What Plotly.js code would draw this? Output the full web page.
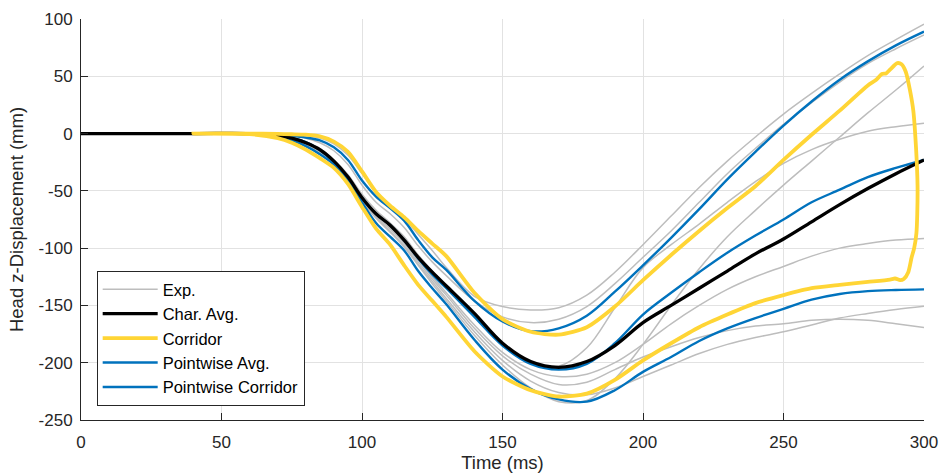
<!DOCTYPE html>
<html>
<head>
<meta charset="utf-8">
<script src="https://cdn.plot.ly/plotly-3.0.1.min.js"></script>
<style>html,body{margin:0;padding:0;background:#fff;}#chart{width:941px;height:476px;}</style>
</head>
<body>
<div id="chart"></div>
<script>
// Shared time grid (ms)
const tGrid = [0,40,60,70,75,80,85,90,95,100,105,110,115,120,125,130,140,150,160,170,180,190,200,210,220,230,240,250,260,270,280,290,300];
// Pointwise series start at 40 ms
const tPw = [40,60,70,75,80,85,90,95,100,105,110,115,120,125,130,140,150,160,170,180,190,200,210,220,230,240,250,260,270,280,290,300];

// Experimental curves (mm) on tGrid
const expA = [0,0,0,-0.5,-1,-2,-4,-9,-19,-35,-52,-63,-74,-88,-102,-117,-142,-151,-154,-152,-141,-121,-97,-72,-47,-24,-3,17,35,52,68,82,95.5];
const expB = [0,0,0,-1,-2,-4,-8,-15,-27,-45,-60,-70,-82,-98,-112,-124,-146,-160,-165,-162,-151,-131,-108,-85,-60,-35,-13,8,27,45,61,74,86];
const expC = [0,0,0,-1.5,-3.5,-7,-13,-23,-36,-53,-67,-78,-90,-106,-120,-132,-157,-182,-199,-203,-187,-152,-117,-97,-79,-60,-42,-26,-14,-5,2,6,9];
const expD = [0,0,0,-1.5,-4,-8,-15,-25,-38,-55,-70,-81,-94,-110,-125,-139,-167,-191,-206,-212,-210,-200,-184,-166,-150,-136,-125,-116,-107,-100,-96,-93,-91.5];
const expE = [0,0,0,-2,-5,-9,-16,-26,-40,-58,-73,-85,-98,-114,-129,-144,-173,-198,-216,-226,-228,-222,-212,-202,-192,-184,-178,-173,-167,-161,-157,-153.5,-150.7];
const expF = [0,0,0,-1.5,-4.5,-9,-16,-26,-40,-57,-72,-83,-96,-112,-127,-141,-170,-194,-210,-219,-217,-206,-195,-186,-178,-172,-168,-166,-163,-162,-163,-166,-169.3];
const expG = [0,0,0,-2,-5,-10,-17,-27,-41,-59,-74,-86,-99,-115,-131,-146,-176,-202,-222,-234,-233,-214,-184,-150,-118,-90,-67,-45,-24,-3,18,38,59];

// Characteristic average on tGrid
const charAvg = [0,0,0,-2,-4,-8,-14,-24,-38,-56,-70,-80,-93,-108,-121,-133,-157,-183,-199,-204,-199,-185,-165,-150,-135,-120,-105,-92,-77,-62,-48,-35,-23];

// Pointwise average and corridor on tPw
const pwAvg   = [0,0,-1.5,-4,-7.5,-14.5,-24.5,-38,-56,-70,-80,-93,-109,-123,-135,-160,-185,-201,-206,-201,-183,-158,-139,-121,-104,-89,-75,-60,-49,-38,-30,-23];
const pwUpper = [0,0,-1,-2,-3.5,-6,-12,-23,-41,-55,-65,-76,-93,-108,-119,-146,-164,-172.5,-170,-159,-138,-115,-91,-66,-40,-16,7,28,47,63,77,89];
const pwLower = [0,-0.5,-3,-6,-11,-18,-27,-41,-60,-78,-90,-102,-120,-135,-149,-180,-206,-223,-232,-234,-224,-208,-195,-181,-170,-161,-153,-145,-140,-137.5,-136.5,-136];

// Characteristic corridor (closed path): upper edge, tip, lower edge back
const corrUpperT = [40,60,70,75,80,85,90,95,100,105,110,115,120,125,130,140,150,160,170,180,190,200,210,220,230,240,250,260,270,280,283,285,286.5,288,290.5];
const corrUpperY = [0,0,-0.3,-0.6,-1,-2.5,-7,-16,-33,-51,-63,-73,-85,-96,-107,-139,-162,-173,-175.5,-169,-151,-128,-106,-85,-65,-46,-23,-1,20,42,47,52,52.5,56,61.5];
const corrTipT = [292,293.5,295,296.2,297.2,297.7,297.6,297.3,296.5,295.6,294.4,292.8,291.5];
const corrTipY = [60.5,54,38,20,-14,-45,-70,-87,-100,-108,-121,-127,-128];
const corrLowerT = [289.7,287.9,280,270,260,250,240,230,220,210,200,190,180,170,160,150,140,130,125,120,115,110,105,100,95,90,85,80,75,70,60,40];
const corrLowerY = [-126.5,-127.4,-129.5,-132,-135,-141,-148,-158,-169,-183,-198,-215,-227,-229.5,-224,-212,-190,-160,-146,-132,-115,-97,-83,-64,-44,-30,-21.5,-14,-8,-4,-0.5,0];

const xTicks = [0,50,100,150,200,250,300];
const yTicks = [-250,-200,-150,-100,-50,0,50,100];

const GRAY = '#bdbdbd', BLUE = '#0072BD', YEL = '#FFD535', BLK = '#000000';
const FONT = 'Liberation Sans, Arial, Helvetica, sans-serif';

const traces = [];
const exps = [expA, expB, expC, expD, expE, expF, expG];
exps.forEach((ys, i) => {
  traces.push({x: tGrid, y: ys, type: 'scatter', mode: 'lines', name: 'Exp.',
    legendgroup: 'exp', showlegend: i === 0, legendrank: 1,
    line: {color: GRAY, width: 1.5, shape: 'spline', smoothing: 1}, hoverinfo: 'skip'});
});
traces.push({x: tPw, y: pwAvg, type: 'scatter', mode: 'lines', name: 'Pointwise Avg.', legendrank: 4,
  line: {color: BLUE, width: 2.4, shape: 'spline', smoothing: 1}});
traces.push({x: tPw.concat([null], tPw), y: pwUpper.concat([null], pwLower), type: 'scatter', mode: 'lines',
  name: 'Pointwise Corridor', legendrank: 5, connectgaps: false,
  line: {color: BLUE, width: 2.4, shape: 'spline', smoothing: 1}});
traces.push({x: tGrid, y: charAvg, type: 'scatter', mode: 'lines', name: 'Char. Avg.', legendrank: 2,
  line: {color: BLK, width: 3.3, shape: 'spline', smoothing: 1}});
traces.push({x: corrUpperT.concat(corrTipT, corrLowerT), y: corrUpperY.concat(corrTipY, corrLowerY),
  type: 'scatter', mode: 'lines', name: 'Corridor', legendrank: 3,
  line: {color: YEL, width: 3.8, shape: 'spline', smoothing: 0.7}});

const axisCommon = {
  showline: true, linecolor: '#262626', linewidth: 1,
  ticks: 'inside', ticklen: 7, tickwidth: 1, tickcolor: '#262626',
  showgrid: true, gridcolor: '#e2e2e2', gridwidth: 1, zeroline: false,
  tickfont: {family: FONT, size: 17, color: '#262626'}
};

const layout = {
  width: 941, height: 476,
  margin: {l: 81, r: 17, t: 19, b: 56},
  paper_bgcolor: '#ffffff', plot_bgcolor: '#ffffff',
  font: {family: FONT, color: '#262626'},
  showlegend: true,
  xaxis: Object.assign({}, axisCommon, {
    range: [0, 300], tickmode: 'array', tickvals: xTicks, ticktext: xTicks.map(String), ticklabelstandoff: 7,
    title: {text: 'Time (ms)', font: {family: FONT, size: 18.5, color: '#262626'}, standoff: 4}
  }),
  yaxis: Object.assign({}, axisCommon, {
    range: [-250, 100], tickmode: 'array', tickvals: yTicks, ticktext: yTicks.map(String), ticklabelstandoff: 4,
    title: {text: 'Head z-Displacement (mm)', font: {family: FONT, size: 18.5, color: '#262626'}, standoff: 10}
  }),
  legend: {
    x: 0.0186, y: 0.035, xanchor: 'left', yanchor: 'bottom',
    bgcolor: '#ffffff', bordercolor: '#262626', borderwidth: 1,
    font: {family: FONT, size: 16.5, color: '#000000'},
    itemwidth: 55, traceorder: 'normal'
  }
};

Plotly.newPlot('chart', traces, layout, {staticPlot: true, displayModeBar: false});
</script>
</body>
</html>
